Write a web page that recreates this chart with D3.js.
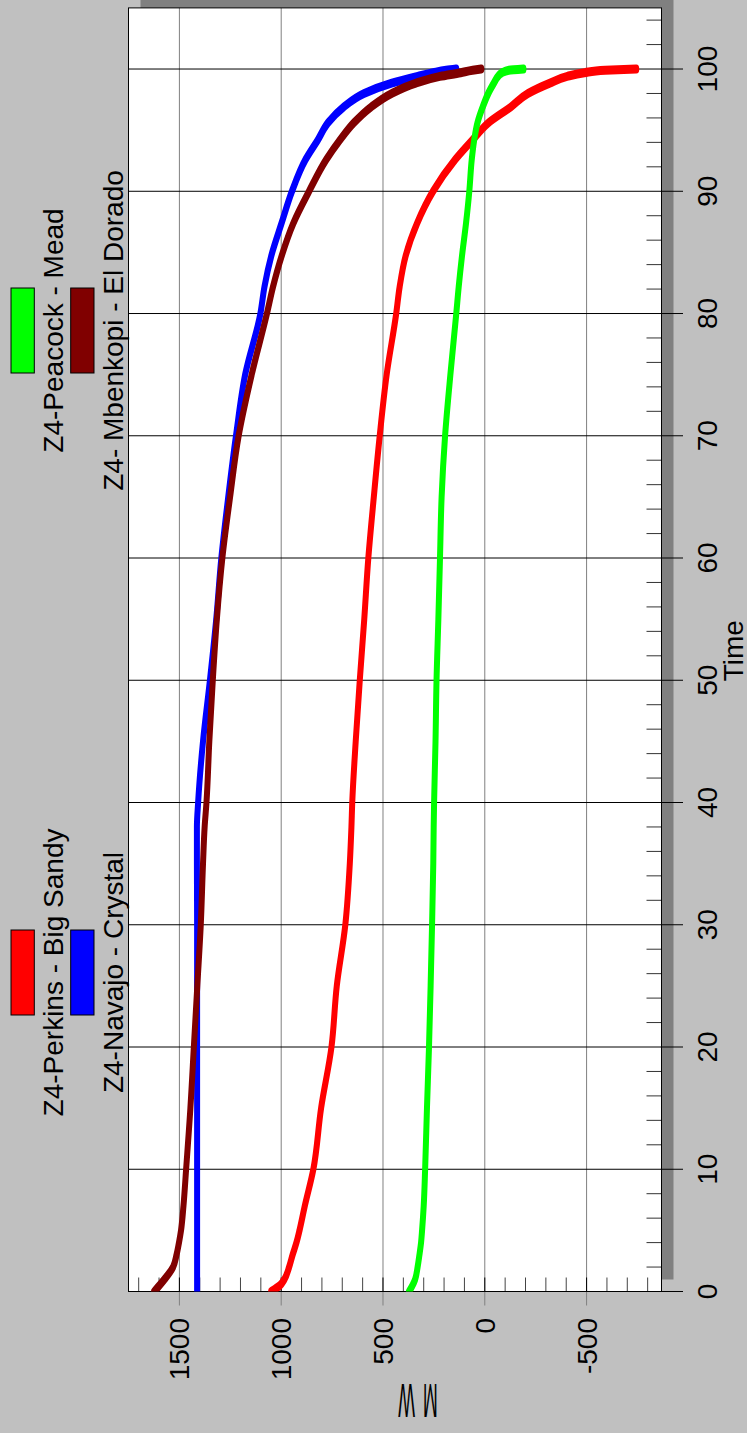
<!DOCTYPE html>
<html>
<head>
<meta charset="utf-8">
<script src="https://cdn.jsdelivr.net/npm/d3@7/dist/d3.min.js"></script>
<style>
html,body{margin:0;padding:0;background:#c0c0c0;}
svg{display:block;font-family:Arial,"Liberation Sans",sans-serif;}
</style>
</head>
<body>
<script>
// ---- data ----
const timePoints = [0,0.5,1,2,3,4,5,7,10,15,20,25,30,35,38,40,45,50,55,60,65,70,75,80,82.2,84.7,87.4,90,92.6,94.2,95.6,96.9,98,98.85,99.4,99.7,99.9,100];
const perkinsMW  = [1049,1006,984,961,944,925,910,884,842,804,753,727,685,663,655,651,634,614,592,572,545,516,482,435,418,389,332,254,145,60,-18,-128,-212,-320,-405,-490,-592,-744];
const navajoMW   = [1413,1413,1413,1413,1413,1413,1413,1413,1413,1413,1413,1413,1413,1414,1414,1408,1384,1350,1319,1294,1260,1222,1177,1102,1082,1049,998,947,880,820,770,693,593,457,330,254,190,140];
const peacockMW  = [372,355,342,330,321,313,308,300,293,284,274,266,259,253,251,249,242,237,228,220,212,195,169,140,128,112,92,76,64,52,36,10,-17,-45,-65,-85,-118,-190];
const mbenkopiMW = [1624,1598,1573,1531,1514,1502,1492,1480,1467,1446,1429,1412,1395,1384,1376,1367,1353,1336,1316,1289,1251,1209,1145,1070,1040,998,940,863,778,711,643,558,457,338,220,118,60,17];
const seriesNames  = ["Z4-Perkins - Big Sandy","Z4-Navajo - Crystal","Z4-Peacock - Mead","Z4- Mbenkopi - El Dorado"];
const seriesColors = ["#ff0000","#0000ff","#00ff00","#800000"];
const mwTicks    = [1500,1000,500,0,-500];
const mwMinor    = d3.range(-800,1701,100).filter(v => v % 500 !== 0);
const timeTicks  = d3.range(0,101,10);
const timeMinor  = d3.range(2,105,2).filter(v => v % 10 !== 0);
const xTitle = "Time";
const yTitle = "MW";

const seriesValues = [perkinsMW, navajoMW, peacockMW, mbenkopiMW];

// ---- layout ----
const W = 747, H = 1433;
const FS = 28;
const svg = d3.select("body").append("svg").attr("width", W).attr("height", H);
svg.append("rect").attr("width", W).attr("height", H).attr("fill", "#c0c0c0");

const xMW = d3.scaleLinear().domain([1750, -868]).range([128.5, 661.5]);
const yT  = d3.scaleLinear().domain([0, 105]).range([1291.5, 7.9]);
const pL = xMW.range()[0], pR = xMW.range()[1], pB = yT.range()[0], pT = yT.range()[1];

// shadow + plot
svg.append("rect").attr("x", pL + 12).attr("y", pT - 12).attr("width", pR - pL).attr("height", pB - pT).attr("fill", "#808080");
svg.append("rect").attr("x", pL).attr("y", pT).attr("width", pR - pL).attr("height", pB - pT).attr("fill", "#ffffff");

// MW gridlines (gray) with outward tick
svg.append("g").selectAll("line").data(mwTicks).join("line")
  .attr("x1", d => xMW(d)).attr("x2", d => xMW(d))
  .attr("y1", pT).attr("y2", pB + 14)
  .attr("stroke", "#808080").attr("stroke-width", 1);
// inner black part of MW major ticks
svg.append("g").selectAll("line").data(mwTicks).join("line")
  .attr("x1", d => xMW(d)).attr("x2", d => xMW(d))
  .attr("y1", pB - 14).attr("y2", pB)
  .attr("stroke", "#000").attr("stroke-width", 1);
// MW minor ticks
svg.append("g").selectAll("line").data(mwMinor).join("line")
  .attr("x1", d => xMW(d)).attr("x2", d => xMW(d))
  .attr("y1", pB - 14).attr("y2", pB)
  .attr("stroke", "#444").attr("stroke-width", 1);

// Time gridlines (black) with outward tick
svg.append("g").selectAll("line").data(timeTicks).join("line")
  .attr("x1", pL).attr("x2", pR + 21.5)
  .attr("y1", d => yT(d)).attr("y2", d => yT(d))
  .attr("stroke", "#000").attr("stroke-width", 1);
// Time minor ticks
svg.append("g").selectAll("line").data(timeMinor).join("line")
  .attr("x1", pR - 15).attr("x2", pR)
  .attr("y1", d => yT(d)).attr("y2", d => yT(d))
  .attr("stroke", "#333").attr("stroke-width", 1);

// border
svg.append("rect").attr("x", pL).attr("y", pT).attr("width", pR - pL).attr("height", pB - pT)
  .attr("fill", "none").attr("stroke", "#000").attr("stroke-width", 1);

// series (pen slightly anisotropic, as in the reference)
const k = 1.5;
svg.append("clipPath").attr("id", "clipPlot").append("rect")
  .attr("x", pL).attr("y", pT).attr("width", pR - pL).attr("height", pB - pT);
const gLines = svg.append("g").attr("clip-path", "url(#clipPlot)")
  .append("g").attr("transform", `scale(1,${k})`);
const line = d3.line().x(d => xMW(d[1])).y(d => yT(d[0]) / k).curve(d3.curveMonotoneY);
seriesValues.forEach((vals, i) => {
  gLines.append("path")
    .attr("d", line(timePoints.map((t, j) => [t, vals[j]])))
    .attr("fill", "none").attr("stroke", seriesColors[i])
    .attr("stroke-width", 6).attr("stroke-linecap", "round").attr("stroke-linejoin", "round");
});

// time tick labels
svg.append("g").selectAll("text").data(timeTicks).join("text")
  .attr("transform", d => `translate(716.7,${yT(d)}) rotate(-90)`)
  .attr("text-anchor", "middle").attr("font-size", FS).attr("fill", "#000")
  .text(d => String(d));
// MW tick labels
svg.append("g").selectAll("text").data(mwTicks).join("text")
  .attr("transform", d => `translate(${xMW(d) + 10},${pB + 26.5}) rotate(-90)`)
  .attr("text-anchor", "end").attr("font-size", FS).attr("fill", "#000")
  .text(d => String(d));

// axis titles
svg.append("text").attr("transform", `translate(743,${(pT + pB) / 2 + 1}) rotate(-90)`)
  .attr("text-anchor", "middle").attr("font-size", FS).text(xTitle);
svg.append("text").attr("transform", `translate(418,1384) rotate(180) scale(0.37,1)`)
  .attr("text-anchor", "middle").attr("font-size", 48).attr("letter-spacing", 22).attr("dx", 11).text(yTitle);

// legend (2 columns x 2 rows, rotated)
const legendPos = [
  {sx: 11, cy: 972.5, base: 63},
  {sx: 70.7, cy: 972.5, base: 122.7},
  {sx: 11, cy: 330.5, base: 63},
  {sx: 70.7, cy: 330.5, base: 122.7}
];
const lg = svg.append("g");
seriesNames.forEach((name, i) => {
  const p = legendPos[i];
  lg.append("rect").attr("x", p.sx).attr("y", p.cy - 42.5).attr("width", 23.3).attr("height", 85)
    .attr("fill", seriesColors[i]).attr("stroke", "#000").attr("stroke-width", 1);
  lg.append("text").attr("transform", `translate(${p.base},${p.cy}) rotate(-90)`)
    .attr("text-anchor", "middle").attr("font-size", FS).attr("fill", "#000").text(name);
});
</script>
</body>
</html>
